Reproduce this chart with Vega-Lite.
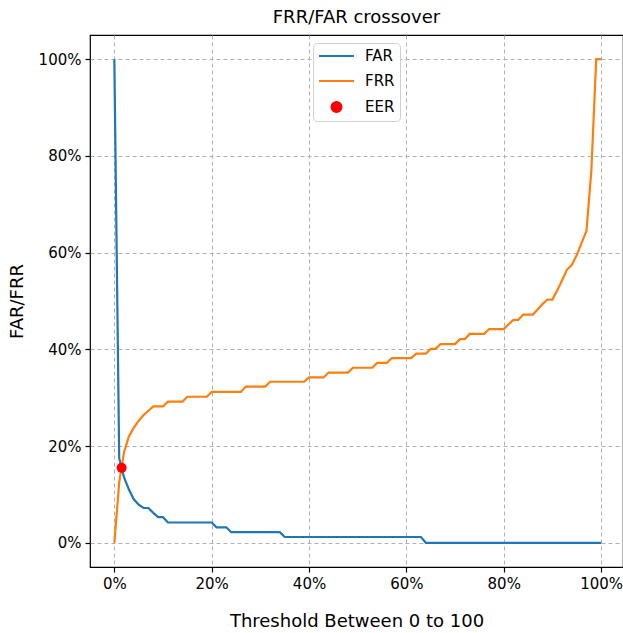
{
  "$schema": "https://vega.github.io/schema/vega-lite/v6.json",
  "width": 533,
  "height": 532,
  "autosize": {"type": "none"},
  "padding": {"left": 90, "top": 35, "right": 0, "bottom": 66},
  "background": "white",
  "title": {"text": "FRR/FAR crossover", "fontSize": 18, "font": "DejaVu Sans", "fontWeight": "normal", "color": "black", "offset": 8, "anchor": "middle"},
  "config": {
    "font": "DejaVu Sans",
    "view": {"stroke": "black", "strokeWidth": 1.2},
    "axis": {
      "domain": false,
      "grid": true,
      "gridDash": [4, 3],
      "gridColor": "#b0b0b0",
      "gridWidth": 1,
      "gridOpacity": 1,
      "tickSize": 5,
      "tickColor": "black",
      "tickWidth": 1.2,
      "labelFontSize": 15,
      "labelColor": "black",
      "labelFont": "DejaVu Sans",
      "titleFont": "DejaVu Sans",
      "titleFontSize": 18,
      "titleFontWeight": "normal",
      "titleColor": "black",
      "labelPadding": 4
    }
  },
  "layer": [
    {
      "data": {"values": [
        {"t":0,"FAR":100,"FRR":0},{"t":1,"FAR":17.5,"FRR":12.5},{"t":2,"FAR":13.5,"FRR":18.8},{"t":3,"FAR":11,"FRR":22},{"t":4,"FAR":9,"FRR":23.8},
        {"t":5,"FAR":7.9,"FRR":25.2},{"t":6,"FAR":7.2,"FRR":26.4},{"t":7,"FAR":7.2,"FRR":27.3},{"t":8,"FAR":6.2,"FRR":28.2},{"t":9,"FAR":5.3,"FRR":28.2},
        {"t":10,"FAR":5.3,"FRR":28.2},{"t":11,"FAR":4.2,"FRR":29.2},{"t":12,"FAR":4.2,"FRR":29.2},{"t":13,"FAR":4.2,"FRR":29.2},{"t":14,"FAR":4.2,"FRR":29.2},
        {"t":15,"FAR":4.2,"FRR":30.2},{"t":16,"FAR":4.2,"FRR":30.2},{"t":17,"FAR":4.2,"FRR":30.2},{"t":18,"FAR":4.2,"FRR":30.2},{"t":19,"FAR":4.2,"FRR":30.2},
        {"t":20,"FAR":4.2,"FRR":31.2},{"t":21,"FAR":3.2,"FRR":31.2},{"t":22,"FAR":3.2,"FRR":31.2},{"t":23,"FAR":3.2,"FRR":31.2},{"t":24,"FAR":2.2,"FRR":31.2},
        {"t":25,"FAR":2.2,"FRR":31.2},{"t":26,"FAR":2.2,"FRR":31.2},{"t":27,"FAR":2.2,"FRR":32.3},{"t":28,"FAR":2.2,"FRR":32.3},{"t":29,"FAR":2.2,"FRR":32.3},
        {"t":30,"FAR":2.2,"FRR":32.3},{"t":31,"FAR":2.2,"FRR":32.3},{"t":32,"FAR":2.2,"FRR":33.3},{"t":33,"FAR":2.2,"FRR":33.3},{"t":34,"FAR":2.2,"FRR":33.3},
        {"t":35,"FAR":1.2,"FRR":33.3},{"t":36,"FAR":1.2,"FRR":33.3},{"t":37,"FAR":1.2,"FRR":33.3},{"t":38,"FAR":1.2,"FRR":33.3},{"t":39,"FAR":1.2,"FRR":33.3},
        {"t":40,"FAR":1.2,"FRR":34.2},{"t":41,"FAR":1.2,"FRR":34.2},{"t":42,"FAR":1.2,"FRR":34.2},{"t":43,"FAR":1.2,"FRR":34.2},{"t":44,"FAR":1.2,"FRR":35.2},
        {"t":45,"FAR":1.2,"FRR":35.2},{"t":46,"FAR":1.2,"FRR":35.2},{"t":47,"FAR":1.2,"FRR":35.2},{"t":48,"FAR":1.2,"FRR":35.2},{"t":49,"FAR":1.2,"FRR":36.2},
        {"t":50,"FAR":1.2,"FRR":36.2},{"t":51,"FAR":1.2,"FRR":36.2},{"t":52,"FAR":1.2,"FRR":36.2},{"t":53,"FAR":1.2,"FRR":36.2},{"t":54,"FAR":1.2,"FRR":37.2},
        {"t":55,"FAR":1.2,"FRR":37.2},{"t":56,"FAR":1.2,"FRR":37.2},{"t":57,"FAR":1.2,"FRR":38.2},{"t":58,"FAR":1.2,"FRR":38.2},{"t":59,"FAR":1.2,"FRR":38.2},
        {"t":60,"FAR":1.2,"FRR":38.2},{"t":61,"FAR":1.2,"FRR":38.2},{"t":62,"FAR":1.2,"FRR":39.1},{"t":63,"FAR":1.2,"FRR":39.1},{"t":64,"FAR":0,"FRR":39.1},
        {"t":65,"FAR":0,"FRR":40.1},{"t":66,"FAR":0,"FRR":40.1},{"t":67,"FAR":0,"FRR":41.1},{"t":68,"FAR":0,"FRR":41.1},{"t":69,"FAR":0,"FRR":41.1},
        {"t":70,"FAR":0,"FRR":41.1},{"t":71,"FAR":0,"FRR":42.1},{"t":72,"FAR":0,"FRR":42.1},{"t":73,"FAR":0,"FRR":43.2},{"t":74,"FAR":0,"FRR":43.2},
        {"t":75,"FAR":0,"FRR":43.2},{"t":76,"FAR":0,"FRR":43.2},{"t":77,"FAR":0,"FRR":44.2},{"t":78,"FAR":0,"FRR":44.2},{"t":79,"FAR":0,"FRR":44.2},
        {"t":80,"FAR":0,"FRR":44.2},{"t":81,"FAR":0,"FRR":45.2},{"t":82,"FAR":0,"FRR":46.1},{"t":83,"FAR":0,"FRR":46.1},{"t":84,"FAR":0,"FRR":47.2},
        {"t":85,"FAR":0,"FRR":47.2},{"t":86,"FAR":0,"FRR":47.2},{"t":87,"FAR":0,"FRR":48.3},{"t":88,"FAR":0,"FRR":49.4},{"t":89,"FAR":0,"FRR":50.3},
        {"t":90,"FAR":0,"FRR":50.3},{"t":91,"FAR":0,"FRR":52.2},{"t":92,"FAR":0,"FRR":54.3},{"t":93,"FAR":0,"FRR":56.5},{"t":94,"FAR":0,"FRR":57.5},
        {"t":95,"FAR":0,"FRR":59.5},{"t":96,"FAR":0,"FRR":62},{"t":97,"FAR":0,"FRR":64.5},{"t":98,"FAR":0,"FRR":77},{"t":99,"FAR":0,"FRR":100},
        {"t":100,"FAR":0,"FRR":100}
      ]},
      "transform": [{"fold": ["FAR", "FRR"], "as": ["series", "rate"]}],
      "mark": {"type": "line", "strokeWidth": 2.2, "clip": true},
      "encoding": {
        "x": {"field": "t", "type": "quantitative",
              "scale": {"domain": [-5, 104.5], "nice": false, "zero": false},
              "axis": {"title": "Threshold Between 0 to 100", "values": [0, 20, 40, 60, 80, 100], "labelExpr": "datum.value + '%'", "titlePadding": 21}},
        "y": {"field": "rate", "type": "quantitative",
              "scale": {"domain": [-5, 105], "nice": false, "zero": false},
              "axis": {"title": "FAR/FRR", "values": [0, 20, 40, 60, 80, 100], "labelExpr": "datum.value + '%'", "titlePadding": 12}},
        "color": {"field": "series", "type": "nominal",
                  "scale": {"domain": ["FAR", "FRR", "EER"], "range": ["#1f77b4", "#ff7f0e", "#ff0000"]},
                  "legend": {
                    "title": null,
                    "orient": "none",
                    "legendX": 223,
                    "legendY": 8,
                    "labelFontSize": 15,
                    "labelFont": "DejaVu Sans",
                    "labelColor": "black",
                    "labelBaseline": "middle",
                    "symbolType": "stroke",
                    "symbolSize": 1225,
                    "symbolStrokeWidth": 2,
                    "labelOffset": 10,
                    "rowPadding": 9,
                    "padding": 5,
                    "fillColor": "white",
                    "strokeColor": "#d0d0d0",
                    "cornerRadius": 4,
                    "encode": {
                      "symbols": {"update": {
                        "y": {"value": 8},
                        "shape": {"signal": "datum.value === 'EER' ? 'circle' : 'stroke'"},
                        "size": {"signal": "datum.value === 'EER' ? 100 : 1225"},
                        "fill": {"signal": "datum.value === 'EER' ? '#ff0000' : 'transparent'"},
                        "stroke": {"signal": "datum.value === 'FAR' ? '#1f77b4' : (datum.value === 'FRR' ? '#ff7f0e' : 'transparent')"},
                        "strokeWidth": {"value": 2}
                      }},
                      "labels": {"update": {"y": {"value": 8}}}
                    }
                  }}
      }
    },
    {
      "data": {"values": [{"t": 1.5, "rate": 15.5, "series": "EER"}]},
      "mark": {"type": "point", "filled": true, "size": 100, "opacity": 1},
      "encoding": {
        "x": {"field": "t", "type": "quantitative"},
        "y": {"field": "rate", "type": "quantitative"},
        "color": {"field": "series", "type": "nominal"}
      }
    }
  ]
}
